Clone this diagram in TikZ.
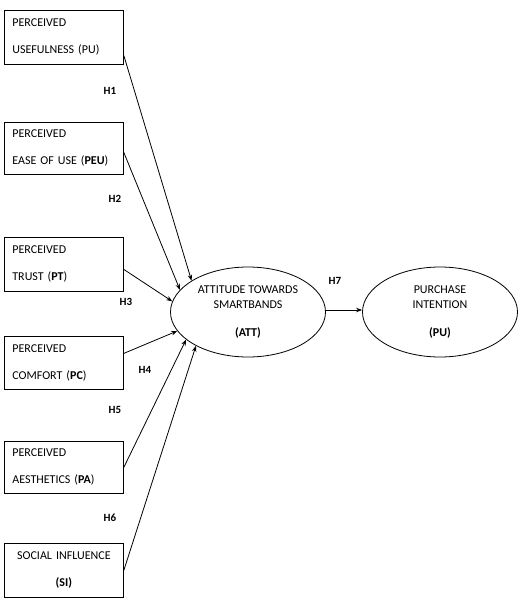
\documentclass[tikz,border=0pt]{standalone}
\usepackage{fontspec}
\setmainfont{Carlito}
\usetikzlibrary{shapes.geometric,arrows.meta}
\begin{document}
\begin{tikzpicture}[x=1pt,y=-1pt,
  box/.style={draw,line width=0.8pt,minimum width=119pt,minimum height=54pt,
    inner xsep=8pt,inner ysep=0pt,text width=103pt,align=left,anchor=north west,
    font=\fontsize{12}{27}\selectfont},
  oval/.style={draw,ellipse,line width=0.8pt,minimum width=155pt,minimum height=90pt,
    inner sep=0pt,align=center,font=\fontsize{12}{15}\selectfont},
  hlab/.style={font=\fontsize{11}{12}\selectfont\bfseries,inner sep=0pt},
  conn/.style={line width=0.8pt,-{Stealth[length=6pt,width=4.5pt]}}]
\useasboundingbox (0,0) rectangle (523,606);
\node[box] (pu) at (4,10) {PERCEIVED\\USEFULNESS (PU)};
\node[box,minimum height=52pt] (peu) at (4,122) {PERCEIVED\\EASE OF USE (\textbf{PEU})};
\node[box] (pt) at (4,237) {PERCEIVED\\TRUST (\textbf{PT})};
\node[box,minimum height=53pt] (pc) at (4,336) {PERCEIVED\\COMFORT (\textbf{PC})};
\node[box,minimum height=52pt] (pa) at (4,441) {PERCEIVED\\AESTHETICS (\textbf{PA})};
\node[box,align=center] (si) at (4,543) {SOCIAL INFLUENCE\\\textbf{(SI)}};
\node[oval] (att) at (248,312) {ATTITUDE TOWARDS\\SMARTBANDS\\[13pt]\textbf{(ATT)}};
\node[oval] (pi) at (440,312) {PURCHASE\\INTENTION\\[13pt]\textbf{(PU)}};
\draw[conn] ([yshift=-18pt]pu.east) -- (att.151.8);
\draw[conn] ([yshift=-4pt]peu.east) -- (att.162);
\draw[conn] ([yshift=-5pt]pt.east) -- (att.172.5);
\draw[conn] ([yshift=9.5pt]pc.east) -- (att.195);
\draw[conn] (pa.east) -- (att.204);
\draw[conn] (si.east) -- (att.213);
\draw[conn] ([yshift=2pt]att.east) -- ([yshift=2pt]pi.west);
\node[hlab] (h1) at (110,91) {H1};
\node[hlab] (h2) at (115,199) {H2};
\node[hlab] (h3) at (126,302) {H3};
\node[hlab] (h4) at (145,370) {H4};
\node[hlab] (h5) at (115,410) {H5};
\node[hlab] (h6) at (110,518) {H6};
\node[hlab] (h7) at (335,281) {H7};
\end{tikzpicture}
\end{document}
